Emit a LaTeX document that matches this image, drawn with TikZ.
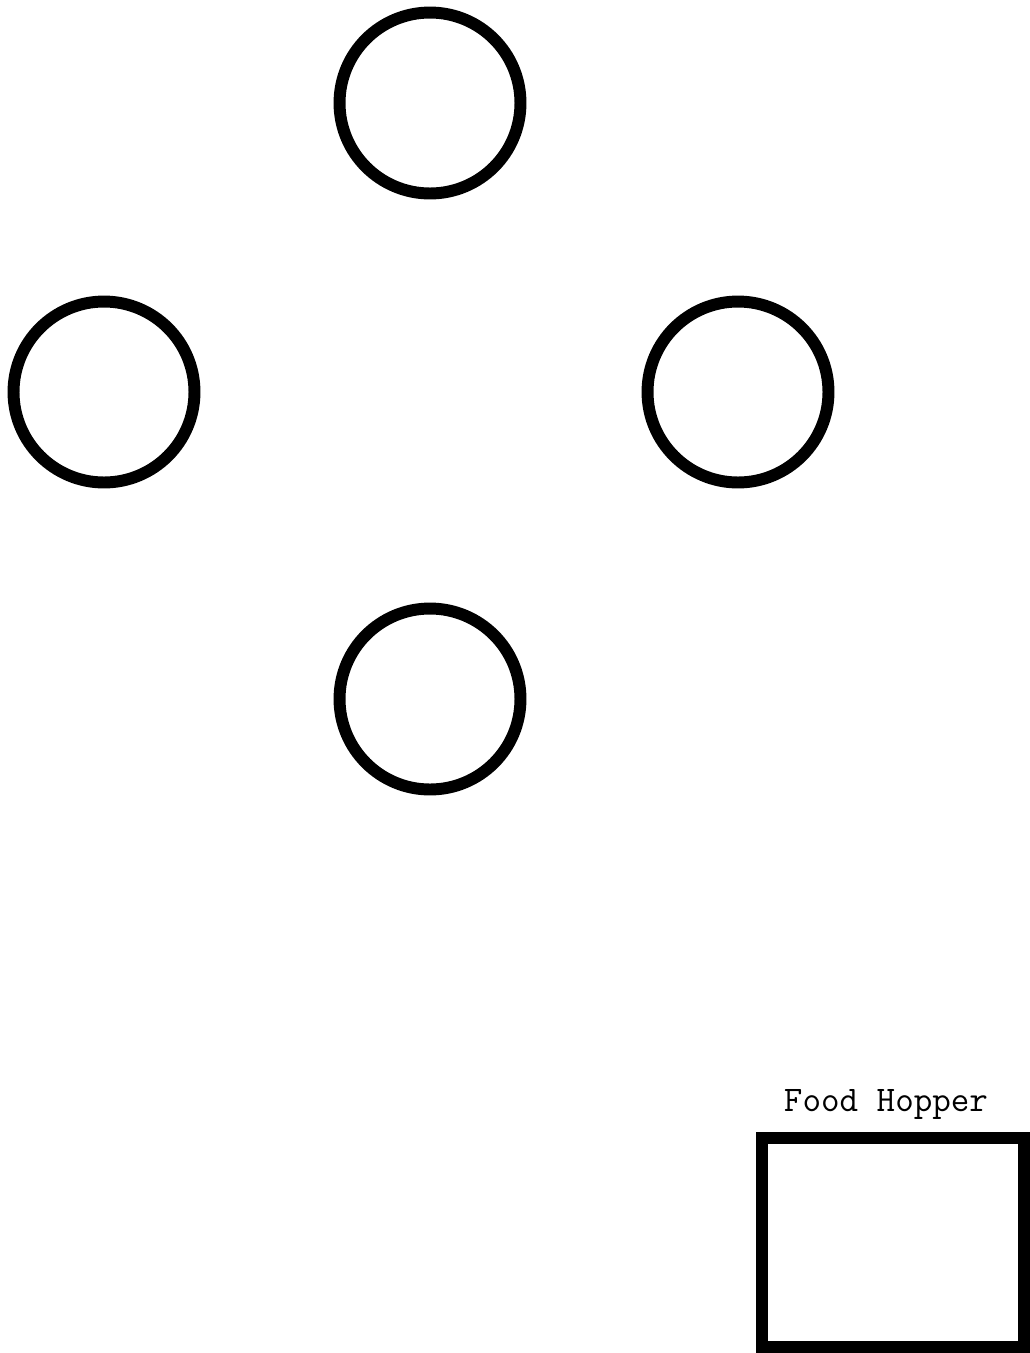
\documentclass[tikz,border=0pt]{standalone}
\usepackage{tikz}
\usetikzlibrary{positioning}
\tikzset{
  ring/.style={circle, draw=black, line width=6.8pt, fill=white,
    minimum size=3.62cm, inner sep=0pt},
  hop/.style={rectangle, draw=black, line width=6.8pt, fill=white,
    minimum width=5.24cm, minimum height=4.18cm, inner sep=0pt},
  lbl/.style={font=\ttfamily\fontsize{20.5}{24}\selectfont, inner sep=0pt},
}
\begin{document}
\begin{tikzpicture}[x=0.02cm, y=-0.02cm]
  \useasboundingbox (0,0) rectangle (1030,1353);
  \node[ring] (top) at (430,103) {};
  \node[ring] (left) at (104,392) {};
  \node[ring] (right) at (738,392) {};
  \node[ring] (bottom) at (430,699) {};
  \node[hop] (hopper) at (893,1242.5) {};
  \node[lbl] (hoplbl) at (886,1104) {Food Hopper};
\end{tikzpicture}
\end{document}
